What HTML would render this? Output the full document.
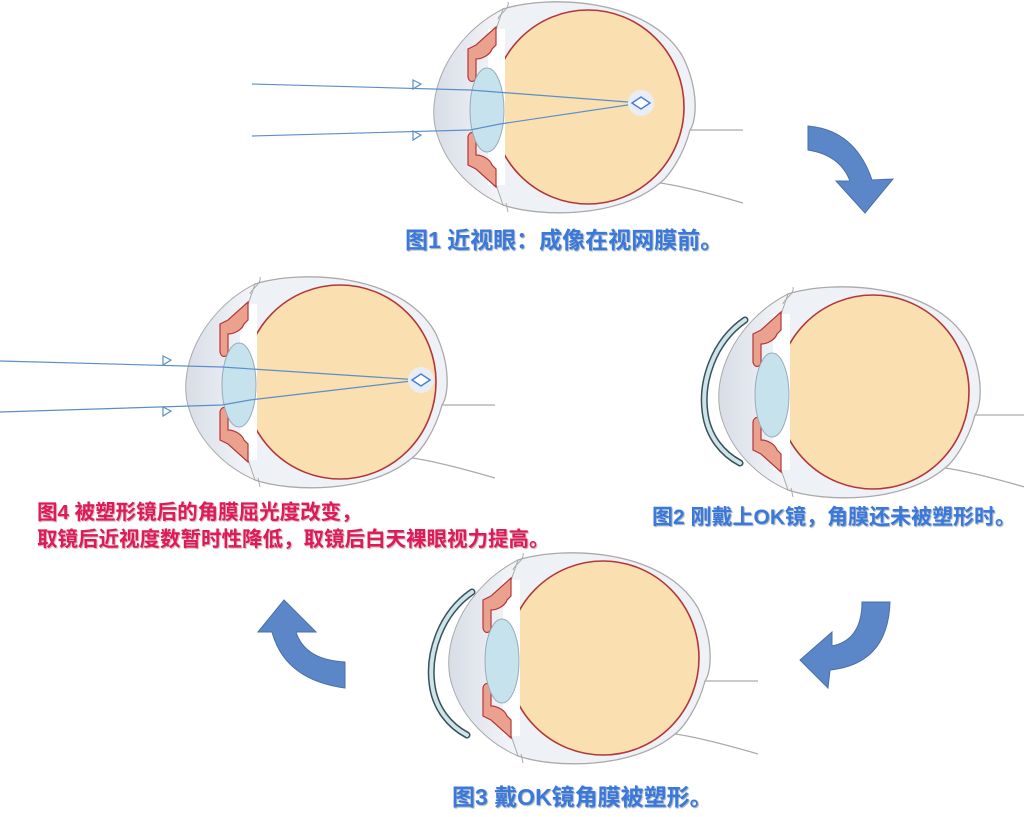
<!DOCTYPE html>
<html><head><meta charset="utf-8"><style>
body{margin:0;background:#fff;width:1024px;height:817px;overflow:hidden;position:relative;font-family:"Liberation Sans","Noto Sans CJK SC",sans-serif}
svg{position:absolute;left:0;top:0}
.lb{position:absolute;font-weight:bold;white-space:nowrap;text-shadow:1px 1px 1px #9ab,0 0 2px #fff;line-height:1}
.b{color:#3b78dc}.r{color:#e0195a;text-shadow:1px 1px 1px #caa}
</style></head><body>
<svg width="1024" height="817" viewBox="0 0 1024 817">
<defs>
<linearGradient id="cg" x1="0" x2="1"><stop offset="0" stop-color="#d8dde6"/><stop offset="1" stop-color="#f4f6f9"/></linearGradient>
<g id="eye">
 <path d="M102,23 L155,23 M72,76 Q100,80 155,96" fill="none" stroke="#aaa" stroke-width="1.3"/>
 <path d="M-85,-98 C-40,-112 60,-110 95,-50 C112,-15 108,15 102,23 L102,23 C95,50 80,70 72,76 C30,112 -50,110 -85,98 C-150,60 -175,-40 -85,-98Z" fill="#eef1f5" stroke="#aaa" stroke-width="1.3"/>
 <path d="M-85,-98 C-140,-70 -165,-10 -150,30 C-140,60 -115,85 -85,98 L-98,60 L-98,-60Z" fill="url(#cg)" stroke="#aaa" stroke-width="1"/>
 <path d="M-80,-105 C-78,-98 -90,-92 -90,-88 M-80,105 L-82,96" fill="none" stroke="#aaa"/>
 <ellipse cx="0" cy="0" rx="96" ry="97" fill="#fadfb0" stroke="#b3363a" stroke-width="1.6"/>
 <rect x="-100" y="-78" width="17" height="156" fill="#fff"/>
 <path d="M-92,-80 L-112,-62 L-120,-58 L-120,-30 C-119,-24 -113,-24 -112,-30 L-112,-48 C-106,-48 -98,-52 -96,-58 L-92,-62Z" fill="#eaa28f" stroke="#b3363a" stroke-width="1.2"/>
 <path d="M-92,80 L-112,62 L-120,58 L-120,30 C-119,24 -113,24 -112,30 L-112,48 C-106,48 -98,52 -96,58 L-92,62Z" fill="#eaa28f" stroke="#b3363a" stroke-width="1.2"/>
 <ellipse cx="-101" cy="3" rx="17" ry="42" fill="#c6e2ec" stroke="#9ab" stroke-width="1"/>
</g>
<g id="cl"><path d="M-128,-72 C-160,-50 -172,-10 -168,20 C-165,45 -150,62 -133,71" fill="none" stroke="#38515a" stroke-width="7" stroke-linecap="round"/><path d="M-128,-72 C-160,-50 -172,-10 -168,20 C-165,45 -150,62 -133,71" fill="none" stroke="#cfe4ea" stroke-width="4" stroke-linecap="round"/></g>
</defs>
<use href="#eye" x="588" y="107"/>
<use href="#eye" x="340" y="382"/>
<use href="#eye" x="873" y="392"/>
<use href="#cl" x="873" y="392"/>
<use href="#eye" x="603" y="658"/>
<use href="#cl" x="600" y="664"/>
<g fill="none" stroke="#5b8fc8" stroke-width="1.2">
<path d="M252,84 L470,90 L641,103 L500,124 L470,130 L252,136"/>
<path d="M0,361 L222,367 L420,380 L250,400 L222,405 L0,412"/>
<path d="M413,80 l8,4 l-8,5Z M413,131 l8,4 l-8,5Z M163,356 l8,4 l-8,5Z M163,407 l8,4 l-8,5Z" fill="#fff"/>
</g>
<g>
<circle cx="641" cy="103" r="13" fill="#e9eef6"/><path d="M632,103 L641,97 L650,103 L641,109Z" fill="#fff" stroke="#4a7fd0" stroke-width="1.5"/>
<circle cx="421" cy="380" r="13" fill="#e9eef6"/><path d="M412,380 L421,374 L430,380 L421,386Z" fill="#fff" stroke="#4a7fd0" stroke-width="1.5"/>
</g>
<g fill="#5b87c8" stroke="#4a6fa8" stroke-width="1">
<path d="M808,126 Q855,130 872,180 L893,179 L865,213 L836,181 L850,181 Q840,155 808,150Z"/>
<path d="M862,602 L890,602 Q888,664 830,670 L828,688 L800,660 L832,632 L832,646 Q862,640 862,602Z"/>
<path d="M258,632 L284,600 L316,632 L296,632 Q305,660 345,662 L345,688 Q285,680 272,632Z"/>
</g>
</svg>
<div class="lb b" style="left:405px;top:229px;font-size:23px">图1 近视眼：成像在视网膜前。</div>
<div class="lb b" style="left:652px;top:507px;font-size:21px">图2 刚戴上OK镜，角膜还未被塑形时。</div>
<div class="lb b" style="left:452px;top:786px;font-size:23px">图3 戴OK镜角膜被塑形。</div>
<div class="lb r" style="left:37px;top:499px;font-size:20.5px;line-height:27px">图4 被塑形镜后的角膜屈光度改变，<br>取镜后近视度数暂时性降低，取镜后白天裸眼视力提高。</div>
</body></html>
